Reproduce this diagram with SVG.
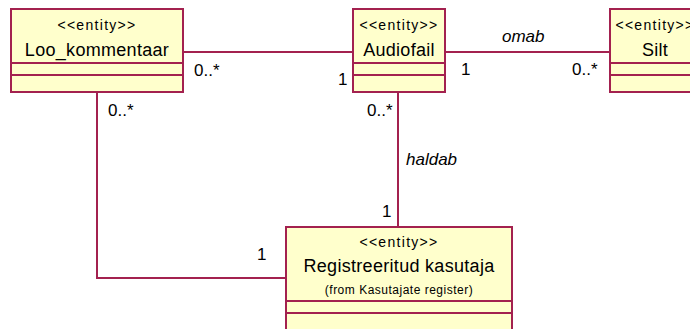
<svg xmlns="http://www.w3.org/2000/svg" width="690" height="329" viewBox="0 0 690 329">
<style>
.box{fill:#FFFFCC;stroke:#A3214F;stroke-width:2}
.sep{stroke:#A3214F;stroke-width:2}
.ln{stroke:#A3214F;stroke-width:2;fill:none}
text{font-family:"Liberation Sans",Arial,sans-serif;fill:#000}
.st{font-size:14px;text-anchor:middle;letter-spacing:1.3px}
.nm{font-size:18px;text-anchor:middle;letter-spacing:0.3px}
.fr{font-size:12px;text-anchor:middle;letter-spacing:0.5px}
.lb{font-size:17px}
.it{font-size:17px;font-style:italic}
</style>
<rect width="690" height="329" fill="#fff"/>
<g id="connectors">
<line class="ln" x1="183" y1="52" x2="353" y2="52"/>
<line class="ln" x1="445" y1="52" x2="610" y2="52"/>
<polyline class="ln" points="97,92 97,278 286,278"/>
<line class="ln" x1="398" y1="92" x2="398" y2="227"/>
<text class="lb" x="194" y="76">0..*</text>
<text class="lb" x="338" y="85">1</text>
<text class="it" x="502" y="42">omab</text>
<text class="lb" x="461" y="75">1</text>
<text class="lb" x="572" y="75">0..*</text>
<text class="lb" x="108" y="116">0..*</text>
<text class="lb" x="367" y="116">0..*</text>
<text class="it" x="406" y="165">haldab</text>
<text class="lb" x="382" y="217">1</text>
<text class="lb" x="257" y="260">1</text>
</g>
<g id="Loo_kommentaar">
<rect class="box" x="11" y="9" width="172" height="83"/>
<line class="sep" x1="11" y1="63" x2="183" y2="63"/>
<line class="sep" x1="11" y1="75" x2="183" y2="75"/>
<text class="st" x="97" y="30">&lt;&lt;entity&gt;&gt;</text>
<text class="nm" x="97" y="56">Loo_kommentaar</text>
</g>
<g id="Audiofail">
<rect class="box" x="353" y="9" width="92" height="83"/>
<line class="sep" x1="353" y1="63" x2="445" y2="63"/>
<line class="sep" x1="353" y1="75" x2="445" y2="75"/>
<text class="st" x="399" y="30">&lt;&lt;entity&gt;&gt;</text>
<text class="nm" x="399" y="56">Audiofail</text>
</g>
<g id="Silt">
<rect class="box" x="610" y="9" width="90" height="83"/>
<line class="sep" x1="610" y1="63" x2="700" y2="63"/>
<line class="sep" x1="610" y1="75" x2="700" y2="75"/>
<text class="st" x="655" y="30">&lt;&lt;entity&gt;&gt;</text>
<text class="nm" x="655" y="56">Silt</text>
</g>
<g id="Registreeritud_kasutaja">
<rect class="box" x="286" y="227" width="226" height="110"/>
<line class="sep" x1="286" y1="301" x2="512" y2="301"/>
<line class="sep" x1="286" y1="313" x2="512" y2="313"/>
<text class="st" x="399" y="247">&lt;&lt;entity&gt;&gt;</text>
<text class="nm" x="399" y="272">Registreeritud kasutaja</text>
<text class="fr" x="399" y="294">(from Kasutajate register)</text>
</g>
</svg>
